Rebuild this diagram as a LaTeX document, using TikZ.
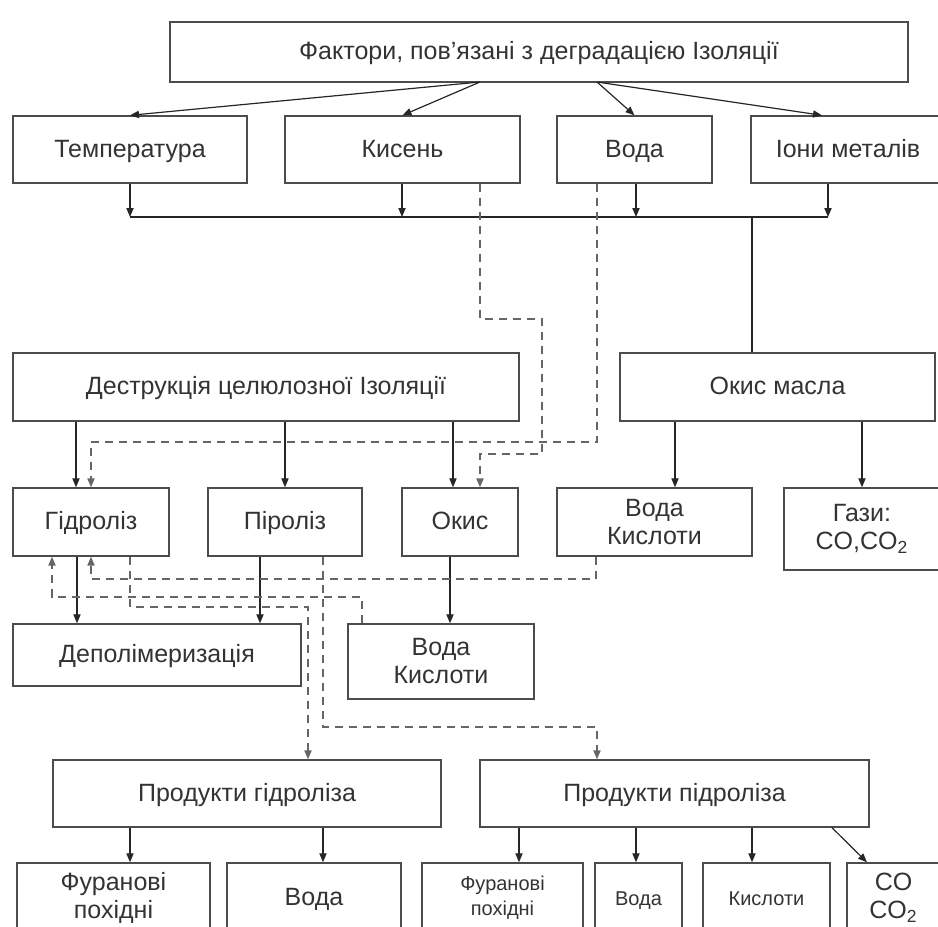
\documentclass[tikz,border=0pt]{standalone}
\usepackage{fontspec}
\setmainfont{Liberation Sans}
\usetikzlibrary{arrows.meta}

\begin{document}
\begin{tikzpicture}[x=0.5pt,y=-0.5pt,>={Triangle[length=4.5pt,width=3.6pt]},
  box2/.style={draw=black!70,line width=0.7pt,text=black!80,align=center,inner sep=1pt,
    font=\fontsize{12.5}{14}\selectfont},
  box/.style={box2,text height=9pt,text depth=1.2pt},
  small/.style={font=\fontsize{10}{12.5}\selectfont},
  line/.style={line width=0.6pt,black!85},
  dsh/.style={line width=0.7pt,black!60,dash pattern=on 4pt off 3pt}]
  \useasboundingbox (0,0) rectangle (938,927);
  \clip (0,0) rectangle (938,927);

  % factors
  \node[box,minimum width=369pt,minimum height=30pt] (top) at (539,52) {Фактори, пов’язані з деградацією Ізоляції};
  \node[box,minimum width=117pt,minimum height=33.5pt] (temp) at (130,149.5) {Температура};
  \node[box,minimum width=117.5pt,minimum height=33.5pt] (kysen) at (402.5,149.5) {Кисень};
  \node[box,minimum width=77.5pt,minimum height=33.5pt] (voda) at (634.5,149.5) {Вода};
  \node[box,minimum width=97pt,minimum height=33.5pt] (iony) at (848,149.5) {Іони металів};

  % destruction
  \node[box,minimum width=253pt,minimum height=34pt] (destr) at (266,387) {Деструкція целюлозної Ізоляції};
  \node[box,minimum width=157.5pt,minimum height=34pt] (okm) at (777.5,387) {Окис масла};

  \node[box,minimum width=78pt,minimum height=34pt] (hid) at (91,522) {Гідроліз};
  \node[box,minimum width=77pt,minimum height=34pt] (pir) at (285,522) {Піроліз};
  \node[box,minimum width=58pt,minimum height=34pt] (okys) at (460,522) {Окис};
  \node[box2,minimum width=97.5pt,minimum height=34pt] (vk1) at (654.5,522) {Вода\\Кислоти};
  \node[box2,minimum width=78pt,minimum height=41pt] (gazy) at (862,529) {Гази:\\CO,CO\textsubscript{2}};

  \node[box,minimum width=144pt,minimum height=31pt] (depol) at (157,655) {Деполімеризація};
  \node[box2,minimum width=93pt,minimum height=37.5pt] (vk2) at (441,661.5) {Вода\\Кислоти};

  % products
  \node[box,minimum width=194pt,minimum height=33.5pt] (prod1) at (247,793.5) {Продукти гідроліза};
  \node[box,minimum width=194.5pt,minimum height=33.5pt] (prod2) at (674.5,793.5) {Продукти підроліза};

  \node[box2,minimum width=96.5pt,minimum height=35pt] (fur1) at (113.5,898) {Фуранові\\похідні};
  \node[box,minimum width=87pt,minimum height=35pt] (voda3) at (314,898) {Вода};
  \node[box2,small,minimum width=80.5pt,minimum height=35pt] (fur2) at (502.5,898) {Фуранові\\похідні};
  \node[box,small,minimum width=43.5pt,minimum height=35pt] (voda4) at (638.5,898) {Вода};
  \node[box,small,minimum width=63.5pt,minimum height=35pt] (kysl) at (766.5,898) {Кислоти};
  \node[box2,minimum width=46.5pt,minimum height=35pt] (co) at (893.5,898) {CO\\CO\textsubscript{2}};

  % top arrows and bus
  \coordinate (s1) at (480,82);
  \coordinate (s2) at (597,82);
  \draw[line,->] (s1) -- (temp.north);
  \draw[line,->] (s1) -- (kysen.north);
  \draw[line,->] (s2) -- (voda.north);
  \draw[line,->] (s2) -- (iony.north -| 822,0);
  \coordinate (b1) at (130,217);
  \coordinate (b4) at (828,217);
  \coordinate (bm) at (752,217);
  \draw[line,->] (temp.south -| b1) -- (b1);
  \draw[line,->] (kysen.south -| 402,0) -- (402,217);
  \draw[line,->] (voda.south -| 636,0) -- (636,217);
  \draw[line,->] (iony.south -| b4) -- (b4);
  \draw[line] (b1) -- (b4);
  \draw[line] (bm) -- (okm.north -| bm);

  % dashed links from oxygen and water
  \draw[dsh,->] (kysen.south -| 480,0) -- (480,319) -| (542,454) -| (okys.north -| 480,0);
  \draw[dsh,->] (voda.south -| 597,0) -- (597,442) -| (hid.north -| 91,0);

  \draw[line,->] (destr.south -| 76,0) -- (hid.north -| 76,0);
  \draw[line,->] (destr.south -| pir.north) -- (pir.north);
  \draw[line,->] (destr.south -| 453,0) -- (okys.north -| 453,0);
  \draw[line,->] (okm.south -| 675,0) -- (vk1.north -| 675,0);
  \draw[line,->] (okm.south -| 862,0) -- (gazy.north -| 862,0);

  \draw[line,->] (hid.south -| 77,0) -- (depol.north -| 77,0);
  \draw[line,->] (pir.south -| 260,0) -- (depol.north -| 260,0);
  \draw[line,->] (okys.south -| 450,0) -- (vk2.north -| 450,0);

  % feedback and products (dashed)
  \draw[dsh,->] (vk1.south -| 596,0) -- (596,579) -| (hid.south -| 91,0);
  \draw[dsh,->] (vk2.north -| 362,0) -- (362,597) -| (hid.south -| 52,0);
  \draw[dsh,->] (hid.south -| 130,0) -- (130,607) -| (prod1.north -| 308,0);
  \draw[dsh,->] (pir.south -| 323,0) -- (323,727) -| (prod2.north -| 597,0);

  \draw[line,->] (prod1.south -| 130,0) -- (fur1.north -| 130,0);
  \draw[line,->] (prod1.south -| 323,0) -- (voda3.north -| 323,0);
  \draw[line,->] (prod2.south -| 519,0) -- (fur2.north -| 519,0);
  \draw[line,->] (prod2.south -| 636,0) -- (voda4.north -| 636,0);
  \draw[line,->] (prod2.south -| 752,0) -- (kysl.north -| 752,0);
  \draw[line,->] (prod2.south -| 832,0) -- (co.north -| 867,0);
\end{tikzpicture}
\end{document}
